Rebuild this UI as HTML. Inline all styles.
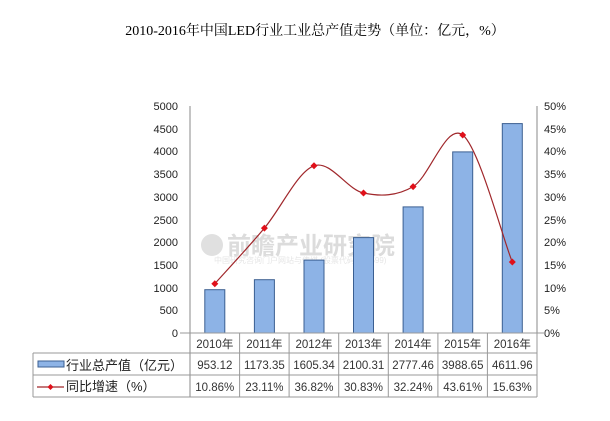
<!DOCTYPE html>
<html><head><meta charset="utf-8"><style>
body{margin:0;background:#fff;}
svg{display:block;font-family:"Liberation Sans","Noto Sans CJK SC",sans-serif;}
</style></head><body>
<svg width="610" height="421" viewBox="0 0 610 421">
<text x="315" y="35" text-anchor="middle" font-size="14" font-family="Liberation Serif,'Noto Serif CJK SC',serif" fill="#000">2010-2016年中国LED行业工业总产值走势（单位：亿元，%）</text>
<circle cx="212" cy="245" r="11" fill="#e0e0e0"/>
<g fill="#dcdcdc" font-size="24" font-weight="bold"><text x="227" y="254">前瞻产业研究院</text></g>
<text x="214" y="263" font-size="8" fill="#e6e6e6">中国研究咨询门户网站与传媒 (股票代码:839599)</text>
<g font-size="11" fill="#222" text-anchor="end">
<text x="178" y="337">0</text><text x="178" y="314">500</text><text x="178" y="292">1000</text><text x="178" y="269">1500</text><text x="178" y="246">2000</text><text x="178" y="224">2500</text><text x="178" y="201">3000</text><text x="178" y="178">3500</text><text x="178" y="155">4000</text><text x="178" y="133">4500</text><text x="178" y="110">5000</text>
</g>
<g font-size="11" fill="#222">
<text x="544" y="337">0%</text><text x="544" y="314">5%</text><text x="544" y="292">10%</text><text x="544" y="269">15%</text><text x="544" y="246">20%</text><text x="544" y="224">25%</text><text x="544" y="201">30%</text><text x="544" y="178">35%</text><text x="544" y="155">40%</text><text x="544" y="133">45%</text><text x="544" y="110">50%</text>
</g>
<line x1="190" y1="106" x2="190" y2="397" stroke="#888"/>
<line x1="537" y1="106" x2="537" y2="333" stroke="#888"/>
<g fill="#8db3e6" stroke="#3b5f91" stroke-width="1">
<rect x="204.8" y="289.7" width="20" height="43.3"/>
<rect x="254.4" y="279.7" width="20" height="53.3"/>
<rect x="304" y="260.1" width="20" height="72.9"/>
<rect x="353.5" y="237.6" width="20" height="95.4"/>
<rect x="403.1" y="206.9" width="20" height="126.1"/>
<rect x="452.7" y="151.9" width="20" height="181.1"/>
<rect x="502.3" y="123.6" width="20" height="209.4"/>
</g>
<path d="M214.8,283.7 C223.1,274.4 247.9,247.8 264.4,228.1 C280.9,208.5 297.5,171.7 314,165.8 C330.5,159.9 347,189.5 363.5,193 C380,196.5 396.6,196.3 413.1,186.6 C429.6,176.9 446.2,122.4 462.7,135 C479.2,147.6 503.4,240.8 512.3,262" fill="none" stroke="#a0272b" stroke-width="1.2"/>
<g fill="#e0101a">
<path d="M214.8,280.2l3.5,3.5l-3.5,3.5l-3.5,-3.5z"/>
<path d="M264.4,224.6l3.5,3.5l-3.5,3.5l-3.5,-3.5z"/>
<path d="M314,162.3l3.5,3.5l-3.5,3.5l-3.5,-3.5z"/>
<path d="M363.5,189.5l3.5,3.5l-3.5,3.5l-3.5,-3.5z"/>
<path d="M413.1,183.1l3.5,3.5l-3.5,3.5l-3.5,-3.5z"/>
<path d="M462.7,131.5l3.5,3.5l-3.5,3.5l-3.5,-3.5z"/>
<path d="M512.3,258.5l3.5,3.5l-3.5,3.5l-3.5,-3.5z"/>
</g>
<g stroke="#999" fill="none">
<line x1="180" y1="333" x2="545" y2="333"/>
<line x1="33" y1="353" x2="537" y2="353"/>
<line x1="33" y1="375" x2="537" y2="375"/>
<line x1="33" y1="397" x2="537" y2="397"/>
<line x1="33" y1="353" x2="33" y2="397"/>
<line x1="537" y1="333" x2="537" y2="397"/>
<line x1="239.6" y1="333" x2="239.6" y2="397"/><line x1="289.1" y1="333" x2="289.1" y2="397"/><line x1="338.7" y1="333" x2="338.7" y2="397"/><line x1="388.3" y1="333" x2="388.3" y2="397"/><line x1="437.9" y1="333" x2="437.9" y2="397"/><line x1="487.4" y1="333" x2="487.4" y2="397"/>
</g>
<g font-size="11.5" fill="#333" text-anchor="middle">
<text x="214.8" y="348">2010年</text><text x="264.4" y="348">2011年</text><text x="314" y="348">2012年</text><text x="363.5" y="348">2013年</text><text x="413.1" y="348">2014年</text><text x="462.7" y="348">2015年</text><text x="512.3" y="348">2016年</text>
<text x="214.8" y="369">953.12</text><text x="264.4" y="369">1173.35</text><text x="314" y="369">1605.34</text><text x="363.5" y="369">2100.31</text><text x="413.1" y="369">2777.46</text><text x="462.7" y="369">3988.65</text><text x="512.3" y="369">4611.96</text>
<text x="214.8" y="391">10.86%</text><text x="264.4" y="391">23.11%</text><text x="314" y="391">36.82%</text><text x="363.5" y="391">30.83%</text><text x="413.1" y="391">32.24%</text><text x="462.7" y="391">43.61%</text><text x="512.3" y="391">15.63%</text>
</g>
<rect x="38" y="361" width="26" height="6" fill="#8db3e6" stroke="#3b5f91"/>
<text x="66" y="370" font-size="13" fill="#222">行业总产值（亿元）</text>
<line x1="37" y1="387" x2="64" y2="387" stroke="#a0272b" stroke-width="1.2"/>
<path d="M50.5,384l3,3l-3,3l-3,-3z" fill="#e0101a"/>
<text x="66" y="391" font-size="13" fill="#222">同比增速（%）</text>
</svg>
</body></html>
